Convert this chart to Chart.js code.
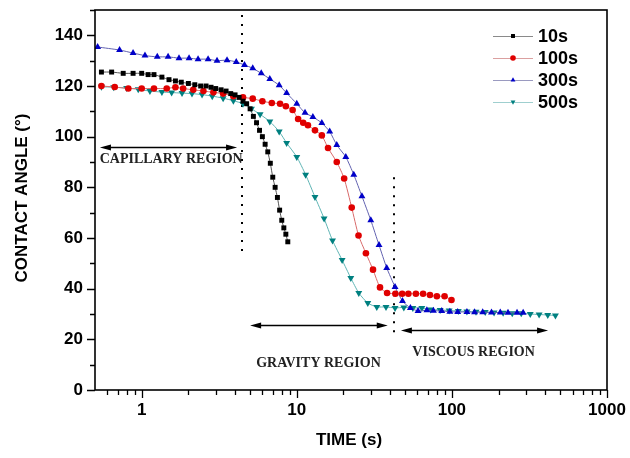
<!DOCTYPE html>
<html>
<head>
<meta charset="utf-8">
<title>Contact angle vs time</title>
<script src="https://cdn.jsdelivr.net/npm/chart.js@4.4.1/dist/chart.umd.min.js"></script>
<style>
  body { margin: 0; background: #fff; }
  canvas { display: block; }
</style>
</head>
<body>
<canvas id="angleChart" width="630" height="458"></canvas>
<script>
// ===== DATA =====
const labels = ["10s", "100s", "300s", "500s"];

const t10 = [0.55, 0.64, 0.76, 0.88, 1.0, 1.1, 1.2, 1.35, 1.5, 1.65, 1.8, 2.0, 2.2, 2.4, 2.6, 2.8, 3.0, 3.25, 3.5, 3.75,
  4.0, 4.25, 4.5, 4.75, 5.0, 5.25, 5.5, 5.75, 6.0, 6.25, 6.5, 6.75, 7.0, 7.25, 7.5, 7.75, 8.0, 8.25, 8.5, 8.75];
const a10 = [125.5, 125.5, 125, 125, 125, 124.5, 124.5, 123.5, 122.5, 122, 121.5, 121, 120.5, 120, 120, 119.5, 119, 118.5, 118, 117,
  116.5, 115.5, 114, 113, 111, 108, 105.5, 102.5, 100, 97, 94, 89.5, 84, 80, 76, 71, 67, 64, 61.5, 58.5];

const t100 = [0.55, 0.67, 0.82, 1.0, 1.2, 1.45, 1.65, 1.85, 2.15, 2.5, 2.9, 3.35, 3.9, 4.5, 5.2, 6.0, 6.9, 7.8, 8.5, 9.4,
  10.2, 11.0, 11.8, 13.1, 14.5, 15.9, 18.1, 20.2, 22.6, 25, 27.9, 31, 34.4, 38.2, 43.2, 47.8, 52.4, 58.6, 65.2, 72.2,
  80, 89.7, 99.4];
const a100 = [120, 119.6, 119, 119, 119, 119, 119.5, 119, 118.5, 118, 117.5, 117, 116, 115.5, 115, 114, 113.3, 113, 112, 110.5,
  107, 105.5, 104.5, 102.5, 100.5, 95.5, 90, 83.5, 72, 61, 54, 47.5, 40.5, 38.3, 38, 38, 38, 38, 38, 37.5,
  37, 37, 35.5];

const t300 = [0.52, 0.72, 0.88, 1.05, 1.26, 1.48, 1.74, 2.02, 2.31, 2.68, 3.06, 3.55, 4.07, 4.6, 5.2, 5.9, 6.7, 7.7, 8.6, 10,
  11.3, 12.7, 14.5, 16.3, 18.1, 20.7, 23.3, 26.3, 30, 33.9, 38, 43, 48, 54, 60.5, 69, 76, 86, 97, 109,
  125, 140, 158, 180, 205, 230, 263, 288];
const a300 = [135.4, 134.2, 133, 132, 131.5, 131.5, 131, 131, 130.6, 130.6, 130, 130.2, 129.5, 128.3, 127, 125, 122.8, 120.3, 117.2, 113,
  109.4, 107.8, 105.4, 102, 96.7, 92, 85, 76.5, 67, 57.2, 48.2, 40.7, 35.1, 32.4, 31.2, 31.5, 31.3, 31.2, 30.9, 30.8,
  30.8, 30.7, 30.7, 30.6, 30.6, 30.5, 30.5, 30.5];

const t500 = [0.55, 0.66, 0.8, 0.95, 1.13, 1.35, 1.56, 1.82, 2.11, 2.45, 2.85, 3.35, 3.9, 4.5, 5.1, 5.8, 6.7, 7.7, 8.6, 10,
  11.4, 13.1, 15, 17, 19.6, 22.3, 25.1, 28.7, 32.8, 37.6, 43, 49, 56, 64, 73, 84, 96, 110, 125, 143,
  164, 187, 214, 245, 280, 320, 365, 415, 465];
const a500 = [119.7, 119.5, 119.2, 118.7, 118, 117.6, 117.4, 117.2, 117, 116.6, 116, 115.2, 114.2, 113, 111, 108.8, 106, 102, 97.5, 92,
  85, 76.2, 67.7, 59, 51.3, 44.2, 38.3, 34.3, 32.8, 32.8, 32.4, 32.6, 32.4, 32.4, 31.8, 31.6, 31.4, 31.2, 31, 30.9,
  30.8, 30.6, 30.5, 30.3, 30.3, 30, 29.8, 29.6, 29.4];

// axis ticks
const xMajor = [1, 10, 100, 1000];
const xMinor = [0.6, 0.7, 0.8, 0.9, 2, 3, 4, 5, 6, 7, 8, 9, 20, 30, 40, 50, 60, 70, 80, 90, 200, 300, 400, 500, 600, 700, 800, 900];
const yMajor = [0, 20, 40, 60, 80, 100, 120, 140];
const yMinor = [10, 30, 50, 70, 90, 110, 130, 150];

// region annotations (data units)
const dividerT = [4.43, 42.6];
const dividerFrom = [54, 21.7];
const dividerTo = [148, 84];
const regionNames = ["CAPILLARY REGION", "GRAVITY REGION", "VISCOUS REGION"];
const arrowFrom = [0.538, 5.0, 46.9];
const arrowTo = [4.12, 38.6, 417];
const arrowAt = [95.8, 25.7, 23.7];
const nameT = [1.55, 13.8, 138];
const nameAt = [91, 10.6, 15];

// ===== STYLES =====
const markColors = ["#000000", "#e00000", "#0000c8", "#008080"];
const lineColors = ["#555555", "#d86a6a", "#6262b0", "#5eb4b4"];
const legendLines = ["#8a8a8a", "#dba0a0", "#9a9ac0", "#9fcfcf"];
const shapes = ["rect", "circle", "triangle", "triangle"];
const turns = [0, 0, 0, 180];
const sizes = [3.5, 3.3, 4, 4];

function pairs(ts, vs) {
  return ts.map((t, i) => ({ x: t, y: vs[i] }));
}

const series = [pairs(t10, a10), pairs(t100, a100), pairs(t300, a300), pairs(t500, a500)];

const datasets = series.map((d, i) => ({
  label: labels[i],
  data: d,
  borderColor: lineColors[i],
  borderWidth: 1,
  backgroundColor: markColors[i],
  pointBackgroundColor: markColors[i],
  pointBorderColor: markColors[i],
  pointBorderWidth: 0,
  pointStyle: shapes[i],
  rotation: turns[i],
  pointRadius: sizes[i],
  tension: 0.2,
  fill: false
}));

// ===== AXES, TICKS, ANNOTATIONS, LEGEND =====
const framePlugin = {
  id: "frame",
  beforeDatasetsDraw(chart) {
    const ctx = chart.ctx;
    const xs = chart.scales.x, ys = chart.scales.y;
    ctx.save();
    // dotted dividers
    ctx.strokeStyle = "#000";
    ctx.lineWidth = 2;
    ctx.setLineDash([2, 7]);
    dividerT.forEach((t, i) => {
      const px = Math.round(xs.getPixelForValue(t));
      ctx.beginPath();
      ctx.moveTo(px, ys.getPixelForValue(dividerTo[i]));
      ctx.lineTo(px, ys.getPixelForValue(dividerFrom[i]));
      ctx.stroke();
    });
    ctx.setLineDash([]);

    // double arrows
    ctx.fillStyle = "#000";
    ctx.lineWidth = 1.3;
    arrowFrom.forEach((t, i) => {
      const x1 = xs.getPixelForValue(t), x2 = xs.getPixelForValue(arrowTo[i]);
      const y = Math.round(ys.getPixelForValue(arrowAt[i])) + 0.5;
      ctx.beginPath();
      ctx.moveTo(x1 + 6, y);
      ctx.lineTo(x2 - 6, y);
      ctx.stroke();
      ctx.beginPath();
      ctx.moveTo(x1, y); ctx.lineTo(x1 + 11, y - 3); ctx.lineTo(x1 + 11, y + 3); ctx.closePath();
      ctx.fill();
      ctx.beginPath();
      ctx.moveTo(x2, y); ctx.lineTo(x2 - 11, y - 3); ctx.lineTo(x2 - 11, y + 3); ctx.closePath();
      ctx.fill();
    });

    // region names
    ctx.font = "bold 14px 'Liberation Serif', 'Times New Roman', serif";
    ctx.fillStyle = "#222";
    ctx.textAlign = "center";
    ctx.textBaseline = "middle";
    regionNames.forEach((name, i) => {
      ctx.fillText(name, xs.getPixelForValue(nameT[i]), ys.getPixelForValue(nameAt[i]));
    });
    ctx.restore();
  },
  afterDraw(chart) {
    const ctx = chart.ctx;
    const a = chart.chartArea;
    const xs = chart.scales.x, ys = chart.scales.y;
    ctx.save();
    ctx.strokeStyle = "#000";
    ctx.lineWidth = 1.6;
    ctx.strokeRect(a.left, a.top, a.right - a.left, a.bottom - a.top);

    // y ticks
    ctx.lineWidth = 1.3;
    ctx.beginPath();
    yMajor.forEach(v => {
      const py = Math.round(ys.getPixelForValue(v)) + 0.5;
      ctx.moveTo(a.left - 8, py); ctx.lineTo(a.left, py);
    });
    yMinor.forEach(v => {
      const py = Math.round(ys.getPixelForValue(v)) + 0.5;
      ctx.moveTo(a.left - 5, py); ctx.lineTo(a.left, py);
    });
    // x ticks
    xMajor.forEach(v => {
      const px = Math.round(xs.getPixelForValue(v)) + 0.5;
      ctx.moveTo(px, a.bottom); ctx.lineTo(px, a.bottom + 8);
    });
    xMinor.forEach(v => {
      const px = Math.round(xs.getPixelForValue(v)) + 0.5;
      ctx.moveTo(px, a.bottom); ctx.lineTo(px, a.bottom + 5);
    });
    ctx.stroke();

    // tick labels
    ctx.fillStyle = "#000";
    ctx.font = "bold 17px 'Liberation Sans', Arial, sans-serif";
    ctx.textAlign = "right";
    ctx.textBaseline = "middle";
    yMajor.forEach(v => ctx.fillText(String(v), a.left - 12, ys.getPixelForValue(v)));
    ctx.textAlign = "center";
    ctx.textBaseline = "top";
    xMajor.forEach(v => ctx.fillText(String(v), xs.getPixelForValue(v), a.bottom + 12));

    // axis titles
    ctx.font = "bold 17px 'Liberation Sans', Arial, sans-serif";
    ctx.textBaseline = "middle";
    ctx.fillText("TIME (s)", 349, 440);
    ctx.save();
    ctx.translate(22, 198);
    ctx.rotate(-Math.PI / 2);
    ctx.fillText("CONTACT ANGLE (\u00B0)", 0, 0);
    ctx.restore();

    // legend
    ctx.font = "bold 18px 'Liberation Sans', Arial, sans-serif";
    ctx.textAlign = "left";
    labels.forEach((lab, i) => {
      const y = 36 + i * 22;
      ctx.strokeStyle = legendLines[i];
      ctx.lineWidth = 1.2;
      ctx.beginPath();
      ctx.moveTo(493, y + 0.5); ctx.lineTo(533, y + 0.5);
      ctx.stroke();
      ctx.fillStyle = markColors[i];
      Chart.helpers.drawPoint(ctx, { pointStyle: shapes[i], rotation: turns[i], radius: 2.8, borderWidth: 0 }, 513, y);
      ctx.fillStyle = "#000";
      ctx.fillText(lab, 538, y + 1);
    });
    ctx.restore();
  }
};

new Chart(document.getElementById("angleChart"), {
  type: "line",
  data: { datasets: datasets },
  options: {
    responsive: false,
    animation: false,
    layout: { padding: { left: 95, right: 23, top: 10, bottom: 68 } },
    plugins: {
      legend: { display: false },
      tooltip: { enabled: false }
    },
    scales: {
      x: { type: "logarithmic", min: 0.5, max: 1000, display: false },
      y: { type: "linear", min: 0, max: 150, display: false }
    }
  },
  plugins: [framePlugin]
});
</script>
</body>
</html>
